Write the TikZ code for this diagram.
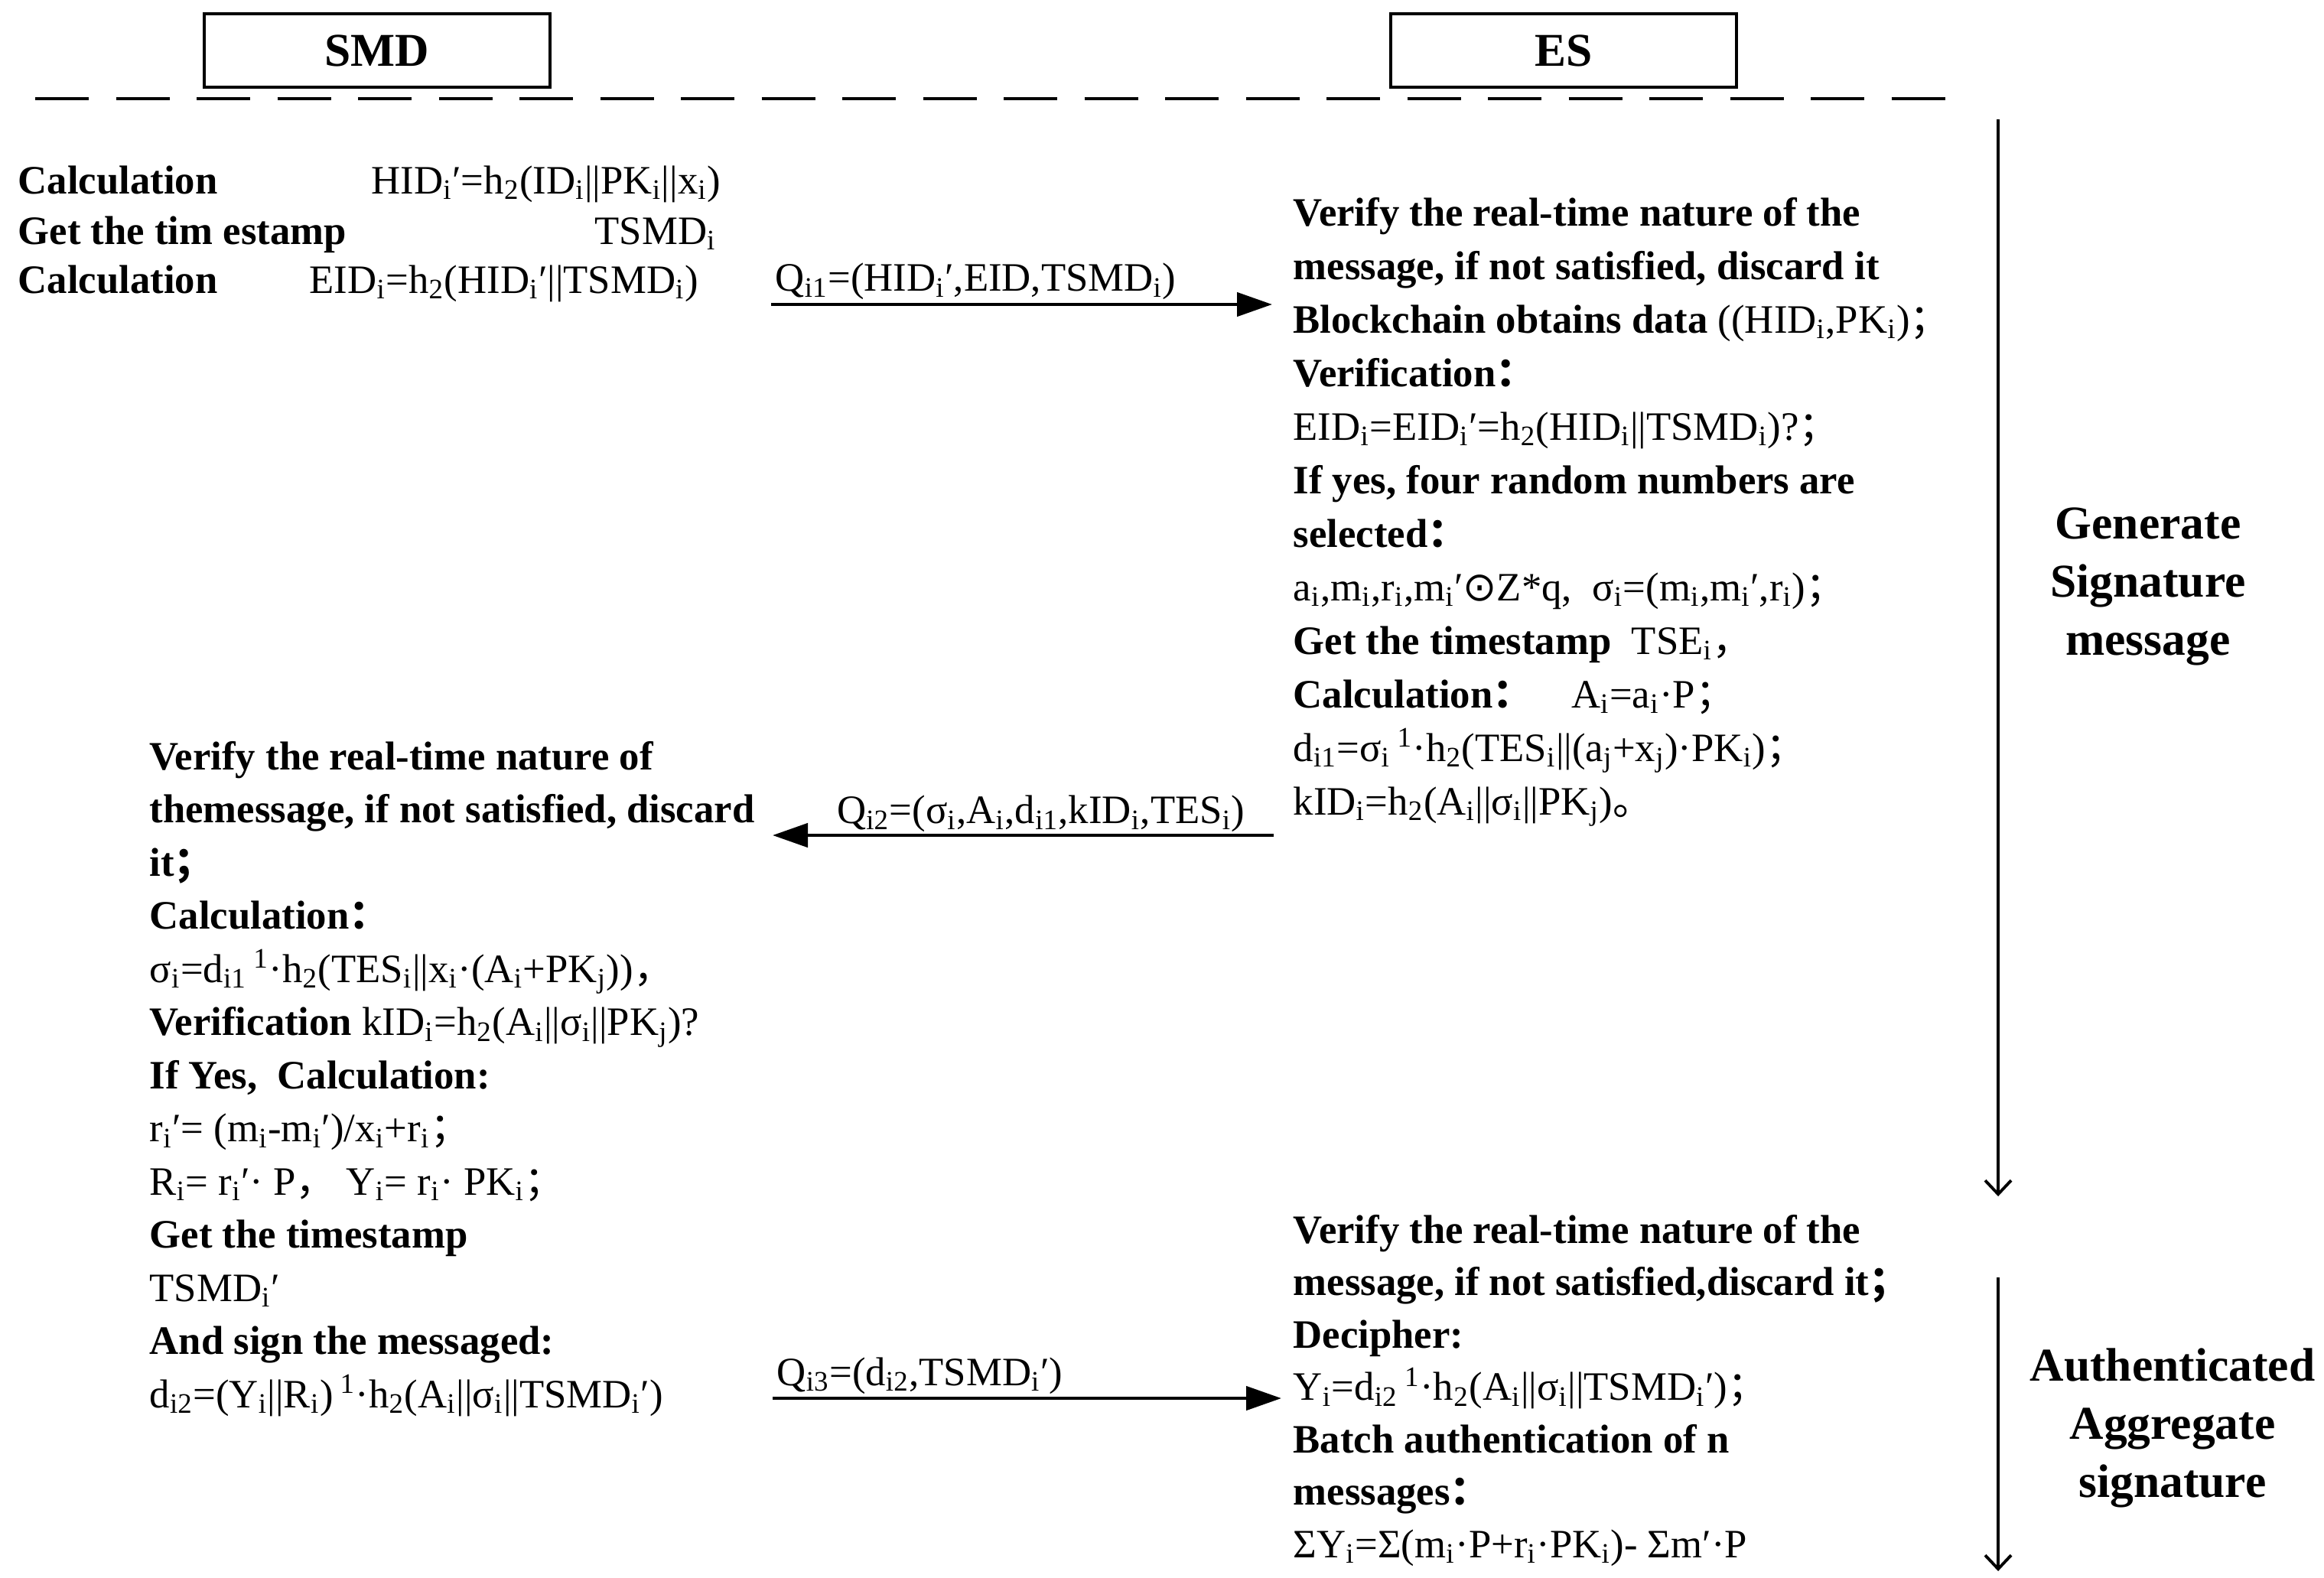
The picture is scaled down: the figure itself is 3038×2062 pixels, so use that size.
\documentclass[tikz,border=0pt]{standalone}
\usepackage{fontspec}
\setmainfont{Liberation Serif}
\newfontfamily\cjkfont{Noto Sans CJK SC}
\newfontfamily\dejafont{DejaVu Sans}
\usetikzlibrary{arrows.meta}
\newcommand\dn[1]{\textsubscript{#1}}
\newcommand\inv{\,\textsuperscript{1}}
\newcommand\fsemi{{\cjkfont ；}}
\newcommand\fcolon{{\cjkfont ：}}
\newcommand\fcomma{{\cjkfont ，}}
\newcommand\fstop{{\cjkfont 。}}
\tikzset{
  party/.style={draw, line width=1.3pt, minimum width=45.2mm, minimum height=9.6mm,
    font=\fontsize{17.5}{21}\selectfont\bfseries},
  txt/.style={anchor=base west, inner sep=0pt, font=\fontsize{15}{18}\selectfont},
  msg/.style={line width=1.3pt, -{Triangle[length=4.6mm,width=3.1mm]}},
  msglabel/.style={anchor=south west, inner sep=1pt, font=\fontsize{15}{18}\selectfont},
  phase/.style={line width=1.1pt, -{Straight Barb[length=1.8mm,width=3.4mm]}},
  stage/.style={align=center, inner sep=0pt, font=\fontsize{17.5}{21.6}\selectfont\bfseries}
}
\begin{document}
\begin{tikzpicture}[x=0.1mm, y=-0.1mm]
  \useasboundingbox (0,0) rectangle (3038,2062);

  \node[party] (smd) at (493,66) {SMD};
  \node[party] (es) at (2044,66) {ES};
  \draw[line width=1.3pt, dash pattern=on 7mm off 3.55mm] (46,129) -- (2554,129);

  % SMD: first step
  \node[txt] (smd-c1) at (23,253) {\textbf{Calculation}};
  \node[txt] (smd-hid) at (485,253) {HID\dn{i}′=h\dn{2}(ID\dn{i}||PK\dn{i}||x\dn{i})};
  \node[txt] (smd-t) at (23,319) {\textbf{Get the tim estamp}};
  \node[txt] (smd-tsmd) at (777,319) {TSMD\dn{i}};
  \node[txt] (smd-c2) at (23,383) {\textbf{Calculation}};
  \node[txt] (smd-eid) at (404,383) {EID\dn{i}=h\dn{2}(HID\dn{i}′||TSMD\dn{i})};

  % ES: verify and sign
  \foreach \row [count=\k from 0] in {
    {\textbf{Verify the real-time nature of the}},
    {\textbf{message, if not satisfied, discard it}},
    {\textbf{Blockchain obtains data} ((HID\dn{i},PK\dn{i})\fsemi},
    {\textbf{Verification\fcolon}},
    {EID\dn{i}=EID\dn{i}′=h\dn{2}(HID\dn{i}||TSMD\dn{i})?\fsemi},
    {\textbf{If yes, four random numbers are}},
    {\textbf{selected\fcolon}},
    {a\dn{i},m\dn{i},r\dn{i},m\dn{i}′{\dejafont ⊙}Z*q,\ \ σ\dn{i}=(m\dn{i},m\dn{i}′,r\dn{i})\fsemi},
    {\textbf{Get the timestamp}\ \ TSE\dn{i}\fcomma},
    {\textbf{Calculation\fcolon}\hspace{5mm}A\dn{i}=a\dn{i}·P\fsemi},
    {d\dn{i1}=σ\dn{i}\inv·h\dn{2}(TES\dn{i}||(a\dn{j}+x\dn{j})·PK\dn{i})\fsemi},
    {kID\dn{i}=h\dn{2}(A\dn{i}||σ\dn{i}||PK\dn{j})\fstop}
  } \node[txt] (es-a\k) at (1690,{295+70*\k}) {\row};

  % SMD: check and answer
  \foreach \row [count=\k from 0] in {
    {\textbf{Verify the real-time nature of}},
    {\textbf{themessage, if not satisfied, discard}},
    {\textbf{it\fsemi}},
    {\textbf{Calculation\fcolon}},
    {σ\dn{i}=d\dn{i1}\inv·h\dn{2}(TES\dn{i}||x\dn{i}·(A\dn{i}+PK\dn{j}))\fcomma},
    {\textbf{Verification} kID\dn{i}=h\dn{2}(A\dn{i}||σ\dn{i}||PK\dn{j})?},
    {\textbf{If Yes,\ \ Calculation:}},
    {r\dn{i}′= (m\dn{i}-m\dn{i}′)/x\dn{i}+r\dn{i}\fsemi},
    {R\dn{i}= r\dn{i}′· P\fcomma\ Y\dn{i}= r\dn{i}· PK\dn{i}\fsemi},
    {\textbf{Get the timestamp}},
    {TSMD\dn{i}′},
    {\textbf{And sign the messaged:}},
    {d\dn{i2}=(Y\dn{i}||R\dn{i})\inv·h\dn{2}(A\dn{i}||σ\dn{i}||TSMD\dn{i}′)}
  } \node[txt] (smd-b\k) at (195,{1006+69.5*\k}) {\row};

  % ES: aggregate check
  \foreach \row [count=\k from 0] in {
    {\textbf{Verify the real-time nature of the}},
    {\textbf{message, if not satisfied,discard it\fsemi}},
    {\textbf{Decipher:}},
    {Y\dn{i}=d\dn{i2}\inv·h\dn{2}(A\dn{i}||σ\dn{i}||TSMD\dn{i}′)\fsemi},
    {\textbf{Batch authentication of n}},
    {\textbf{messages\fcolon}},
    {ΣY\dn{i}=Σ(m\dn{i}·P+r\dn{i}·PK\dn{i})- Σm′·P}
  } \node[txt] (es-b\k) at (1690,{1625+68.5*\k}) {\row};

  % messages
  \coordinate (q1s) at (1008,398);
  \coordinate (q1e) at (1663,398);
  \coordinate (q2s) at (1665,1092);
  \coordinate (q2e) at (1010,1092);
  \coordinate (q3s) at (1010,1828);
  \coordinate (q3e) at (1675,1828);
  \draw[msg] (q1s) -- (q1e) node[msglabel, pos=0] (q1) {Q\dn{i1}=(HID\dn{i}′,EID,TSMD\dn{i})};
  \draw[msg] (q2s) -- (q2e);
  \node[msglabel] (q2) at (1090,1092) {Q\dn{i2}=(σ\dn{i},A\dn{i},d\dn{i1},kID\dn{i},TES\dn{i})};
  \draw[msg] (q3s) -- (q3e) node[msglabel, pos=0] (q3) {Q\dn{i3}=(d\dn{i2},TSMD\dn{i}′)};

  % phases
  \coordinate (p1s) at (2612,156);
  \coordinate (p1e) at (2612,1564);
  \coordinate (p2s) at (2612,1670);
  \coordinate (p2e) at (2612,2054);
  \draw[phase] (p1s) -- (p1e);
  \draw[phase] (p2s) -- (p2e);
  \node[stage] (gen) at (2808,767) {Generate\\Signature\\message};
  \node[stage] (auth) at (2840,1867) {Authenticated\\Aggregate\\signature};
\end{tikzpicture}
\end{document}
